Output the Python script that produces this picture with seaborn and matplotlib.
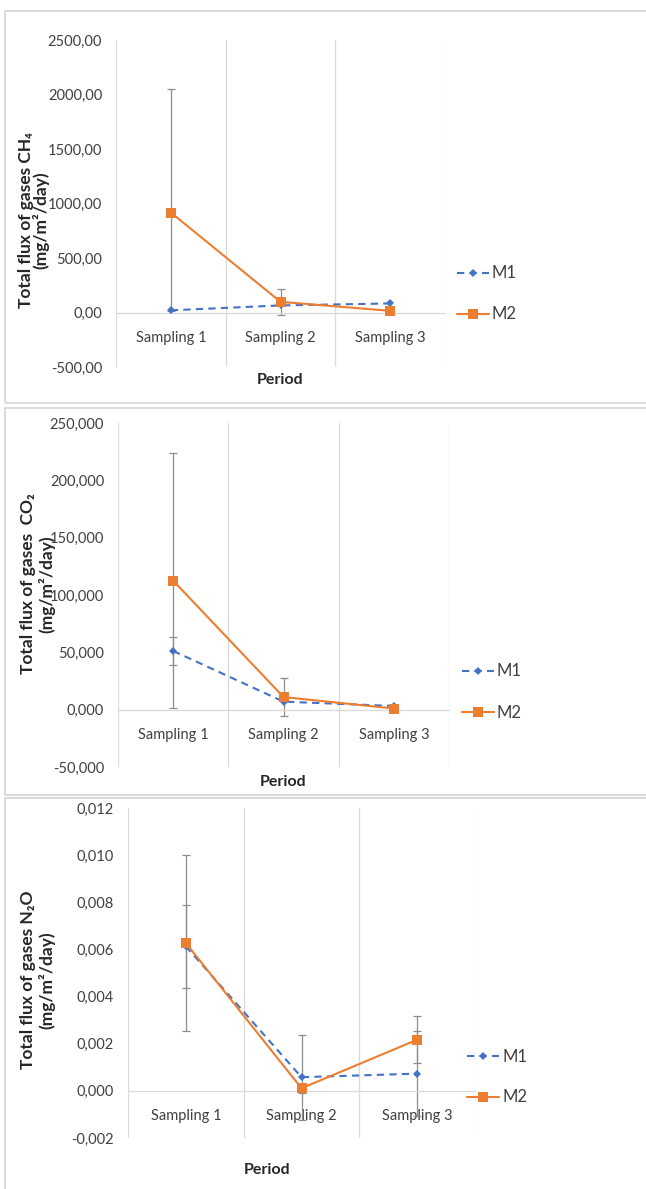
import numpy as np
import pandas as pd
import matplotlib
matplotlib.use("Agg")
import matplotlib.pyplot as plt
from matplotlib.patches import Rectangle
from matplotlib.ticker import FuncFormatter
import seaborn as sns

# Data
periods = ["Sampling 1", "Sampling 2", "Sampling 3"]

ch4_m1 = [20, 65, 83]
ch4_m2 = [917, 98, 15]
ch4_m1_err_lo = [0, 0, 0]
ch4_m1_err_hi = [0, 0, 0]
ch4_m2_err_lo = [900, 120, 0]
ch4_m2_err_hi = [1135, 120, 0]

co2_m1 = [51.2, 7.0, 3.2]
co2_m2 = [112.5, 11.0, 1.0]
co2_m1_err_lo = [12.6, 0, 0]
co2_m1_err_hi = [12.6, 0, 0]
co2_m2_err_lo = [111.3, 16.5, 0]
co2_m2_err_hi = [111.3, 16.5, 0]

n2o_m1 = [0.00613, 0.00058, 0.00073]
n2o_m2 = [0.00627, 0.00011, 0.00217]
n2o_m1_err_lo = [0.00177, 0.0018, 0.0018]
n2o_m1_err_hi = [0.00177, 0.0018, 0.0018]
n2o_m2_err_lo = [0.00375, 0.0002, 0.001]
n2o_m2_err_hi = [0.00375, 0.0002, 0.001]

ch4_ticks = [-500, 0, 500, 1000, 1500, 2000, 2500]
co2_ticks = [-50, 0, 50, 100, 150, 200, 250]
n2o_ticks = [-0.002, 0, 0.002, 0.004, 0.006, 0.008, 0.010, 0.012]

BLUE = "#4472C4"
ORANGE = "#ED7D31"
GRID = "#d9d9d9"
ERR = "#8c8c8c"

sns.set_style("white")
plt.rcParams["font.family"] = ["Lato", "DejaVu Sans"]

W, H = 646, 1189
fig = plt.figure(figsize=(W / 100, H / 100), dpi=100)


def px_axes(x0, x1, y0, y1):
    # pixel box (top-left origin) -> figure axes
    return fig.add_axes([x0 / W, 1 - y1 / H, (x1 - x0) / W, (y1 - y0) / H])


def draw_panel(ax, m1, m2, errs, ticks, decimals):
    df1 = pd.DataFrame({"period": periods, "value": m1})
    df2 = pd.DataFrame({"period": periods, "value": m2})

    # error bars first, under the lines
    for vals, (lo, hi) in zip([m1, m2], errs):
        for p, v, a, b in zip(periods, vals, lo, hi):
            if a == 0 and b == 0:
                continue
            ax.errorbar([p], [v], yerr=[[a], [b]], fmt="none", ecolor=ERR,
                        elinewidth=0.9, capsize=3, capthick=0.9, zorder=2)

    sns.lineplot(data=df1, x="period", y="value", ax=ax, color=BLUE,
                 marker="D", markersize=4.5, markeredgewidth=0,
                 linestyle=(0, (3.5, 2.5)), linewidth=1.5, label="M1",
                 sort=False, zorder=3)
    sns.lineplot(data=df2, x="period", y="value", ax=ax, color=ORANGE,
                 marker="s", markersize=6.5, markeredgewidth=0,
                 linewidth=1.5, label="M2", sort=False, zorder=4)

    ax.set_xlim(-0.5, 2.5)
    ax.set_ylim(ticks[0], ticks[-1])
    ax.set_yticks(ticks)
    ax.yaxis.set_major_formatter(
        FuncFormatter(lambda v, _: f"{v:.{decimals}f}".replace(".", ",")))
    ax.set_xticks([-0.5, 0.5, 1.5, 2.5], minor=True)
    ax.grid(which="minor", axis="x", color=GRID, linewidth=0.9)
    ax.grid(which="major", axis="both", visible=False)
    for s in ["top", "right", "left"]:
        ax.spines[s].set_visible(False)
    ax.spines["bottom"].set_position(("data", 0))
    ax.spines["bottom"].set_color(GRID)
    ax.spines["bottom"].set_linewidth(0.9)
    ax.tick_params(axis="x", which="both", length=0, pad=13,
                   labelsize=10.5, colors="#404040")
    ax.tick_params(axis="y", length=0, pad=10, labelsize=10.5,
                   colors="#404040")
    ax.set_xlabel("")
    ax.set_ylabel("")
    ax.patch.set_alpha(0)


# panel frames
for y0, y1 in [(11, 403), (408, 795), (798, 1195)]:
    fig.patches.append(Rectangle((5 / W, 1 - y1 / H), 1.0, (y1 - y0) / H,
                                 transform=fig.transFigure, fill=False,
                                 edgecolor="#d4d4d4", linewidth=1.2))

ax1 = px_axes(116, 445, 40, 367)
draw_panel(ax1, ch4_m1, ch4_m2,
           [(ch4_m1_err_lo, ch4_m1_err_hi), (ch4_m2_err_lo, ch4_m2_err_hi)],
           ch4_ticks, 2)

ax2 = px_axes(118, 449, 423, 767)
draw_panel(ax2, co2_m1, co2_m2,
           [(co2_m1_err_lo, co2_m1_err_hi), (co2_m2_err_lo, co2_m2_err_hi)],
           co2_ticks, 3)

ax3 = px_axes(128, 475, 808, 1138)
draw_panel(ax3, n2o_m1, n2o_m2,
           [(n2o_m1_err_lo, n2o_m1_err_hi), (n2o_m2_err_lo, n2o_m2_err_hi)],
           n2o_ticks, 3)

labels = [
    ("Total flux of gases CH₄", 26, 41, 220, ax1, 457, 294),
    ("Total flux of gases  CO₂", 28, 47, 584, ax2, 462, 692),
    ("Total flux of gases N₂O", 28, 47, 980, ax3, 467, 1077),
]
for title, xa, xb, yc, ax, lx, ly in labels:
    fig.text(xa / W, 1 - yc / H, title, rotation=90, ha="center",
             va="center", fontsize=12.5, fontweight="bold", color="#262626")
    fig.text(xb / W, 1 - yc / H, "(mg/m²/day)", rotation=90, ha="center",
             va="center", fontsize=12.5, fontweight="bold", color="#262626")
    ax.legend(loc="center left", bbox_to_anchor=(lx / W, 1 - ly / H),
              bbox_transform=fig.transFigure, frameon=False, fontsize=12,
              handlelength=1.9, handletextpad=0.2, labelspacing=1.5,
              borderpad=0, borderaxespad=0, labelcolor="#404040")

for xc, yc in [(280, 380), (283, 782), (267, 1170)]:
    fig.text(xc / W, 1 - yc / H, "Period", ha="center", va="center",
             fontsize=11.5, fontweight="bold", color="#262626")

fig.savefig("out.png", dpi=100, facecolor="white")
